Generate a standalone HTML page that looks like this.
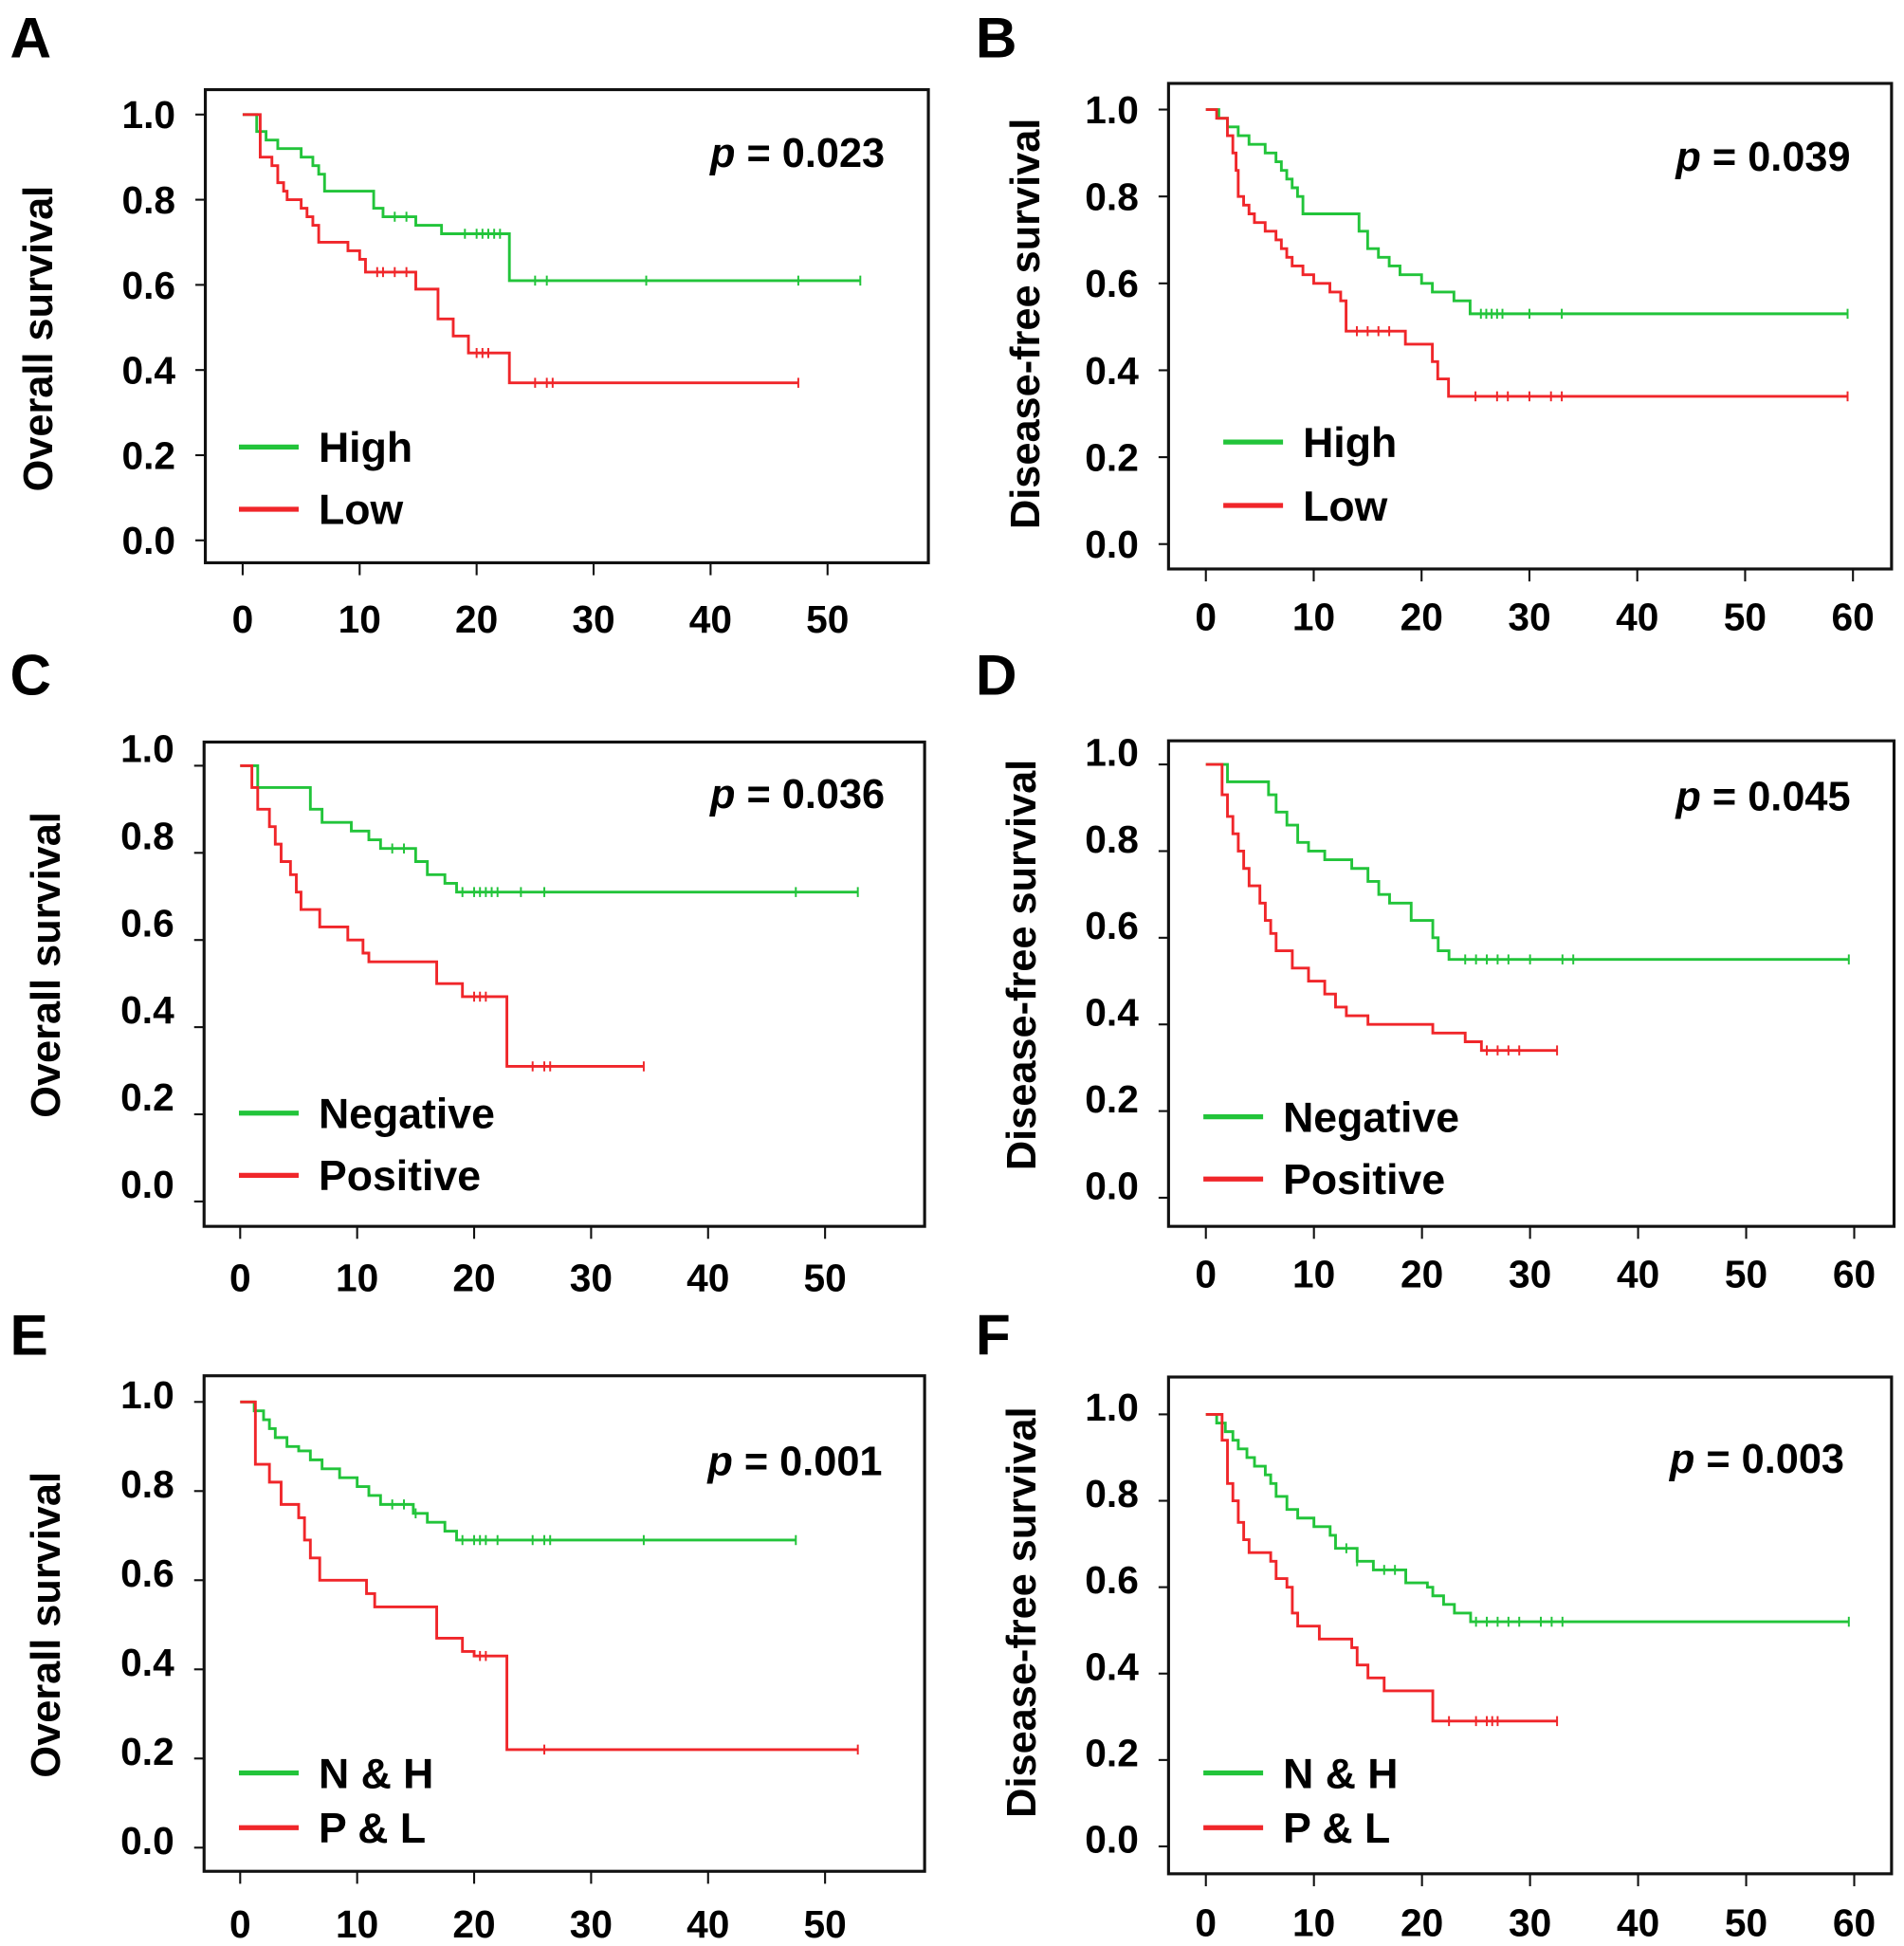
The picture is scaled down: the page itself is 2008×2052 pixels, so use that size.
<!DOCTYPE html>
<html><head><meta charset="utf-8"><style>
html,body{margin:0;padding:0;background:#fff}
svg{display:block}
text{font-family:"Liberation Sans",Arial,sans-serif;font-weight:bold;fill:#000}
</style></head><body>
<svg id="fig" width="2008" height="2052" viewBox="0 0 1530 1563" preserveAspectRatio="none" xmlns="http://www.w3.org/2000/svg"></svg>
<script>
// ---- Data ----
const xTicksA = [0,10,20,30,40,50];
const xTicksB = [0,10,20,30,40,50,60];
const yTicks = [0.0,0.2,0.4,0.6,0.8,1.0];
const yTickLabels = ["0.0","0.2","0.4","0.6","0.8","1.0"];

// Panel A
const aHighT = [1.2,2,3,4,5,6,6.5,7,11.2,12,14.8,17,22.8,52.8];
const aHighS = [0.96,0.94,0.92,0.92,0.90,0.88,0.86,0.82,0.78,0.76,0.74,0.72,0.61,0.61];
const aHighC = [13,14,19,20,20.5,21,21.5,22,25,26,34.5,47.5,52.8];
const aLowT = [1.5,2.5,3,3.5,3.8,5,5.5,6,6.5,9,10,10.5,14.8,16.7,18,19.3,22.8,47.5];
const aLowS = [0.90,0.88,0.84,0.82,0.80,0.78,0.76,0.74,0.70,0.68,0.66,0.63,0.59,0.52,0.48,0.44,0.37,0.37];
const aLowC = [11.5,12,13,14,20,20.5,21,25,26,26.5,47.5];

// Panel B
const bHighT = [1.2,2,3,4,5.5,6.5,7,7.5,8,8.5,9,14.2,15,16,17,18,20,21,23,24.5,59.5];
const bHighS = [0.98,0.96,0.94,0.92,0.90,0.88,0.86,0.84,0.82,0.80,0.76,0.72,0.68,0.66,0.64,0.62,0.60,0.58,0.56,0.53,0.53];
const bHighC = [25.5,26,26.5,27,27.5,30,33,59.5];
const bLowT = [1,2,2.5,2.8,3,3.5,4,4.5,5.5,6.5,7,7.5,8,9,10,11.5,12.5,13,18.5,21,21.5,22.5,59.5];
const bLowS = [0.98,0.94,0.90,0.86,0.80,0.78,0.76,0.74,0.72,0.70,0.68,0.66,0.64,0.62,0.60,0.58,0.56,0.49,0.46,0.42,0.38,0.34,0.34];
const bLowC = [14,15,16,17,25,27,28,30,32,33,59.5];

// Panel C
const cNegT = [1.5,6,7,9.5,11,12,15,16,17.5,18.5,52.8];
const cNegS = [0.95,0.90,0.87,0.85,0.83,0.81,0.78,0.75,0.73,0.71,0.71];
const cNegC = [13,14,19,20,20.5,21,21.5,22,24,26,47.5,52.8];
const cPosT = [1,1.5,2.5,3,3.5,4.3,4.8,5.2,6.8,9.2,10.5,11,16.8,19,22.8,34.5];
const cPosS = [0.95,0.90,0.86,0.82,0.78,0.75,0.71,0.67,0.63,0.60,0.57,0.55,0.50,0.47,0.31,0.31];
const cPosC = [20,20.5,21,25,26,26.5,34.5];

// Panel D
const dNegT = [2,5.8,6.5,7.5,8.5,9.5,11,13.5,15,16,17,19,21,21.5,22.5,59.5];
const dNegS = [0.96,0.93,0.89,0.86,0.82,0.80,0.78,0.76,0.73,0.70,0.68,0.64,0.60,0.57,0.55,0.55];
const dNegC = [24,25,26,27,28,30,33,34,59.5];
const dPosT = [1.5,2,2.5,3,3.5,4,5,5.5,6,6.5,8,9.5,11,12,13,15,21,24,25.5,32.5];
const dPosS = [0.93,0.88,0.84,0.80,0.76,0.72,0.68,0.64,0.61,0.57,0.53,0.50,0.47,0.44,0.42,0.40,0.38,0.36,0.34,0.34];
const dPosC = [26,27,28,29,32.5];

// Panel E
const eNHT = [1.2,2,2.5,3,4,5,6,7,8.5,10,11,12,14.8,16,17.5,18.5,47.5];
const eNHS = [0.98,0.96,0.94,0.92,0.90,0.89,0.87,0.85,0.83,0.81,0.79,0.77,0.75,0.73,0.71,0.69,0.69];
const eNHC = [13,14,15,19,20,20.5,21,22,25,26,26.5,34.5,47.5];
const ePLT = [1.3,2.5,3.5,5,5.5,6,6.8,10.8,11.5,16.8,19,20,22.8,52.8];
const ePLS = [0.86,0.82,0.77,0.74,0.69,0.65,0.60,0.57,0.54,0.47,0.44,0.43,0.22,0.22];
const ePLC = [20.5,21,26,52.8];

// Panel F
const fNHT = [1,1.8,2.5,3,3.8,4.5,5.5,6,6.5,7.5,8.5,10,11.5,12,14,15.5,18.5,20.5,21,22,23,24.5,59.5];
const fNHS = [0.98,0.96,0.94,0.92,0.90,0.88,0.86,0.84,0.81,0.78,0.76,0.74,0.72,0.69,0.66,0.64,0.61,0.60,0.58,0.56,0.54,0.52,0.52];
const fNHC = [13,14,16.5,17.5,25,26,27,28,29,31,32,33,59.5];
const fPLT = [1.5,2,2.5,3,3.5,4,6,6.5,7.5,8,8.5,10.5,13.5,14,15,16.5,21,32.5];
const fPLS = [0.94,0.84,0.80,0.75,0.71,0.68,0.66,0.62,0.60,0.54,0.51,0.48,0.46,0.42,0.39,0.36,0.29,0.29];
const fPLC = [22.5,25,26,26.5,27,32.5];

// ---- Drawing ----
const NS = "http://www.w3.org/2000/svg";
const svg = document.getElementById('fig');
const GREEN = "#22c43a", RED = "#f0262a";
function mk(tag, attrs, parent){
  const e = document.createElementNS(NS, tag);
  for (const k in attrs) e.setAttribute(k, attrs[k]);
  (parent||svg).appendChild(e);
  return e;
}
function panel(cfg){
  const g = mk('g', {});
  
  
  const xMax = cfg.xTicks[cfg.xTicks.length-1];
  const sx = v => cfg.x0 + (cfg.x1 - cfg.x0) * v / xMax;
  const sy = v => cfg.y0 + (cfg.y1 - cfg.y0) * v;
  const box = mk('rect', {x:cfg.bl, y:cfg.bt, width:cfg.br-cfg.bl, height:cfg.bb-cfg.bt, fill:'none', stroke:'#111', 'stroke-width':2.4}, g);
  
  
  const L = mk('text', {x:cfg.lx, y:cfg.ly, 'font-size':46}, g);
  L.textContent = cfg.letter;
  
  
  // y ticks
  yTicks.forEach((v,i)=>{
    const y = sy(v);
    mk('line', {x1:cfg.bl-8, x2:cfg.bl, y1:y, y2:y, stroke:'#111', 'stroke-width':1.6}, g);
    const t = mk('text', {x:cfg.bl-24, y:y+11+cfg.labOff, 'font-size':31, 'text-anchor':'end'}, g);
    t.textContent = yTickLabels[i];
    
    
  });
  cfg.xTicks.forEach(v=>{
    const x = sx(v);
    mk('line', {x1:x, x2:x, y1:cfg.bb, y2:cfg.bb+10, stroke:'#111', 'stroke-width':1.6}, g);
    const t = mk('text', {x:x, y:cfg.xly, 'font-size':31, 'text-anchor':'middle'}, g);
    t.textContent = String(v);
    
    
  });
  const yt = mk('text', {x:0, y:0, 'font-size':33, 'text-anchor':'middle', transform:`translate(${cfg.ytx},${cfg.yty}) rotate(-90)`}, g);
  yt.textContent = cfg.ytitle;
  
  
  const p = mk('text', {x:cfg.px, y:cfg.py, 'font-size':33, 'text-anchor':'end'}, g);
  p.innerHTML = '<tspan font-style="italic">p</tspan> = ' + cfg.p;
  
  
  cfg.series.forEach((s, idx)=>{
    let d = `M${sx(0)},${sy(1)}`;
    let prev = 1;
    s.t.forEach((t,i)=>{
      d += ` H${sx(t)} V${sy(s.s[i])}`;
      prev = s.s[i];
    });
    const path = mk('path', {d:d, fill:'none', stroke:s.color, 'stroke-width':2.2}, g);
    
    
    s.c.forEach(c=>{
      let lev = 1;
      s.t.forEach((t,i)=>{ if (t <= c) lev = s.s[i]; });
      const cm = mk('line', {x1:sx(c), x2:sx(c), y1:sy(lev)-4, y2:sy(lev)+4, stroke:s.color, 'stroke-width':1.5}, g);
      
      
    });
    const ly = cfg.legY[idx];
    const ll = mk('line', {x1:cfg.legX, x2:cfg.legX+48, y1:ly, y2:ly, stroke:s.color, 'stroke-width':4}, g);
    
    
    const lt = mk('text', {x:cfg.legX+64, y:ly+12, 'font-size':34}, g);
    lt.textContent = s.name;
    
    
  });
}
panel({letter:'A', lx:8, ly:46, bl:165, bt:72, br:746, bb:452, x0:195, x1:665, y0:434, y1:92, xTicks:xTicksA, xly:508, labOff:0,
  ytitle:'Overall survival', ytx:42, yty:272, p:'0.023', px:711, py:134, legX:192, legY:[359,409],
  series:[{name:'High',color:GREEN,t:aHighT,s:aHighS,c:aHighC},{name:'Low',color:RED,t:aLowT,s:aLowS,c:aLowC}]});
panel({letter:'B', lx:784, ly:46, bl:939, bt:67, br:1520, bb:457, x0:969, x1:1489, y0:437, y1:88, xTicks:xTicksB, xly:506, labOff:0,
  ytitle:'Disease-free survival', ytx:835, yty:260, p:'0.039', px:1487, py:137, legX:983, legY:[355,406],
  series:[{name:'High',color:GREEN,t:bHighT,s:bHighS,c:bHighC},{name:'Low',color:RED,t:bLowT,s:bLowS,c:bLowC}]});
panel({letter:'C', lx:8, ly:558, bl:164, bt:596, br:743, bb:985, x0:193, x1:663, y0:965, y1:615, xTicks:xTicksA, xly:1037, labOff:-14,
  ytitle:'Overall survival', ytx:48, yty:775, p:'0.036', px:711, py:649, legX:192, legY:[894,944],
  series:[{name:'Negative',color:GREEN,t:cNegT,s:cNegS,c:cNegC},{name:'Positive',color:RED,t:cPosT,s:cPosS,c:cPosC}]});
panel({letter:'D', lx:784, ly:558, bl:939, bt:595, br:1522, bb:985, x0:969, x1:1490, y0:962, y1:614, xTicks:xTicksB, xly:1034, labOff:-10,
  ytitle:'Disease-free survival', ytx:832, yty:775, p:'0.045', px:1487, py:651, legX:967, legY:[897,947],
  series:[{name:'Negative',color:GREEN,t:dNegT,s:dNegS,c:dNegC},{name:'Positive',color:RED,t:dPosT,s:dPosS,c:dPosC}]});
panel({letter:'E', lx:8, ly:1088, bl:164, bt:1105, br:743, bb:1503, x0:193, x1:663, y0:1484, y1:1126, xTicks:xTicksA, xly:1556, labOff:-6,
  ytitle:'Overall survival', ytx:48, yty:1305, p:'0.001', px:709, py:1185, legX:192, legY:[1424,1468],
  series:[{name:'N & H',color:GREEN,t:eNHT,s:eNHS,c:eNHC},{name:'P & L',color:RED,t:ePLT,s:ePLS,c:ePLC}]});
panel({letter:'F', lx:784, ly:1088, bl:939, bt:1106, br:1520, bb:1505, x0:969, x1:1490, y0:1483, y1:1136, xTicks:xTicksB, xly:1555, labOff:-6,
  ytitle:'Disease-free survival', ytx:832, yty:1295, p:'0.003', px:1482, py:1183, legX:967, legY:[1424,1468],
  series:[{name:'N & H',color:GREEN,t:fNHT,s:fNHS,c:fNHC},{name:'P & L',color:RED,t:fPLT,s:fPLS,c:fPLC}]});
</script>
</body></html>
